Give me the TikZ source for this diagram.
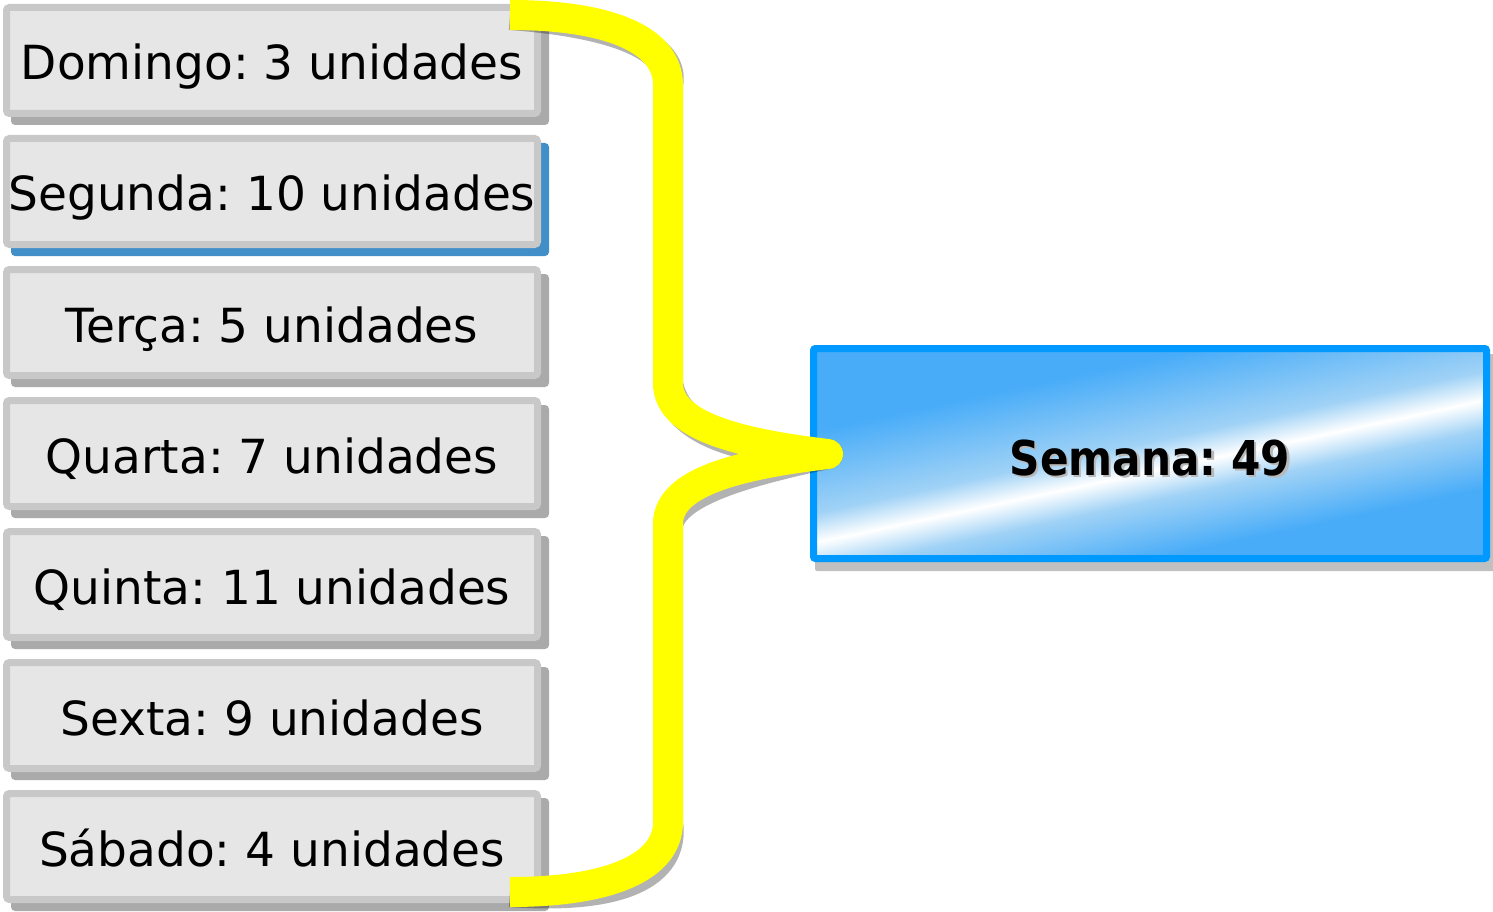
\documentclass[tikz,border=0pt]{standalone}
\usepackage{fontspec}
\setmainfont{DejaVu Sans}
\usepackage{graphicx}
\frenchspacing
\definecolor{boxfill}{RGB}{230,230,230}
\definecolor{boxborder}{RGB}{200,200,200}
\definecolor{boxshadow}{RGB}{170,170,170}
\definecolor{blueshadow}{RGB}{66,142,200}
\definecolor{semborder}{RGB}{0,153,255}
\definecolor{semshadow}{RGB}{192,192,192}
\definecolor{semA}{RGB}{72,172,248}
\definecolor{semB}{RGB}{160,210,246}
\definecolor{txtshadow}{RGB}{185,185,185}
\definecolor{braceyellow}{RGB}{255,255,0}
\pgfdeclareverticalshading{semshade}{100bp}{color(0bp)=(semA); color(32bp)=(semA); color(42bp)=(semB); color(47bp)=(white); color(52bp)=(semB); color(66bp)=(semA); color(100bp)=(semA)}
\newcommand{\shtext}[1]{\makebox[0pt][l]{\hspace*{2.5pt}\raisebox{-2.5pt}{\textcolor{txtshadow}{#1}}}#1}
\begin{document}
\begin{tikzpicture}[x=1pt,y=-1pt,
  daybox/.style={draw=boxborder, line width=7pt, fill=boxfill, rounded corners=3pt,
    minimum width=531pt, minimum height=106pt, inner sep=0pt,
    text height=39pt, text depth=0pt, font=\fontsize{47}{56}\selectfont},
  dayshadow/.style={rounded corners=4pt},
  sembox/.style={draw=semborder, line width=7pt, rounded corners=2pt,
    shading=semshade, shading angle=12,
    minimum width=673pt, minimum height=210pt, inner sep=0pt,
    text height=43pt, text depth=0pt, font=\fontsize{48}{56}\selectfont\bfseries},
  brace/.style={draw=braceyellow, line width=30pt, line cap=butt, line join=round},
  braceshadow/.style={draw=black, draw opacity=0.3, line width=30pt, line cap=butt, line join=round}]
\useasboundingbox (0,0) rectangle (1493,912);
% day shadows
\foreach \i in {0,2,3,4,5,6}{
  \fill[dayshadow, boxshadow] (11,{12+131*\i}) rectangle (549,{125+131*\i});
}
\fill[dayshadow, blueshadow] (11,{12+131}) rectangle (549,{125+131});
% day boxes
\foreach \i/\nm/\txt in {0/dom/{Domingo: 3 unidades},1/seg/{Segunda: 10 unidades},2/ter/{Terça: 5 unidades},3/qua/{Quarta: 7 unidades},4/qui/{Quinta: 11 unidades},5/sex/{Sexta: 9 unidades},6/sab/{Sábado: 4 unidades}}{
  \node[daybox] (\nm) at (272,{60.5+131*\i}) {\txt};
}
% week box
\fill[semshadow, rounded corners=2pt] (815,354) rectangle (1496,571);
\node[sembox] (sem) at (1150,453.5) {\scalebox{0.88}[1]{\shtext{Semana: 49}}};
% brace
\coordinate (bs) at (510,15);
\coordinate (bt1) at (668,85);
\coordinate (bt2) at (668,383);
\coordinate (tip) at (828,454);
\coordinate (bb1) at (668,524);
\coordinate (bb2) at (668,822);
\coordinate (be) at (510,892);
\begin{scope}[shift={(8,8)}]
\draw[braceshadow] (bs) .. controls (610,15) and (668,40) .. (bt1) -- (bt2)
  .. controls (668,422) and (725,442) .. (tip)
  .. controls (725,466) and (668,486) .. (bb1) -- (bb2)
  .. controls (668,867) and (610,892) .. (be);
\end{scope}
\draw[brace] (bs) .. controls (610,15) and (668,40) .. (bt1) -- (bt2)
  .. controls (668,422) and (725,442) .. (tip)
  .. controls (725,466) and (668,486) .. (bb1) -- (bb2)
  .. controls (668,867) and (610,892) .. (be);
\end{tikzpicture}
\end{document}
